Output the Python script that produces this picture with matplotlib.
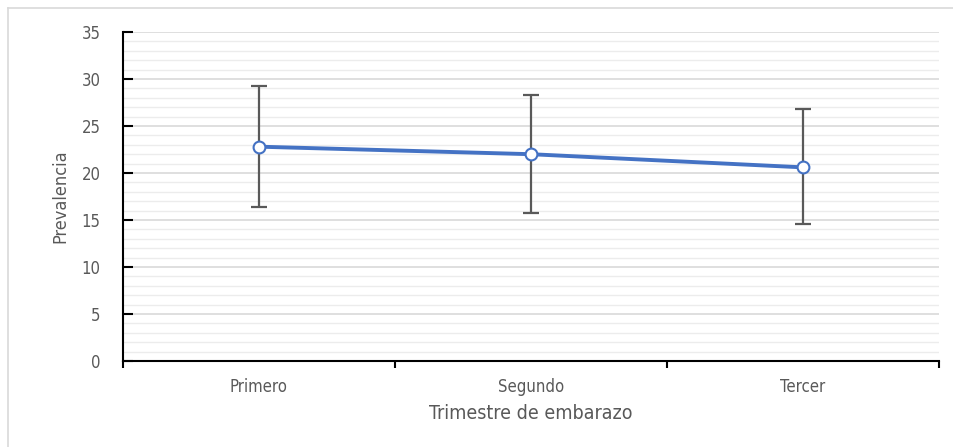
import matplotlib.pyplot as plt
from matplotlib.ticker import MultipleLocator, FixedLocator
from matplotlib.lines import Line2D
import numpy as np

trimestres = ["Primero", "Segundo", "Tercer"]
prevalencia = [22.8, 22.0, 20.6]
ic_inferior = [16.4, 15.7, 14.6]
ic_superior = [29.3, 28.3, 26.8]

plt.rcParams['font.family'] = ['DejaVu Sans']
plt.rcParams['font.stretch'] = 'condensed'
gray_text = '#595959'

fig = plt.figure(figsize=(9.54, 4.47), dpi=100)
ax = fig.add_axes([123 / 954, 86 / 447, 816 / 954, 329 / 447])

x = np.arange(1, len(trimestres) + 1)
vals = np.array(prevalencia)
yerr = [vals - np.array(ic_inferior), np.array(ic_superior) - vals]

ax.errorbar(x, vals, yerr=yerr, fmt='none', ecolor='#595959',
            elinewidth=1.6, capsize=6, capthick=1.6, zorder=3)
ax.plot(x, vals, color='#4472C4', lw=2.8, marker='o', ms=8.5,
        mfc='white', mec='#4472C4', mew=1.5, zorder=4)

ax.set_xlim(0.5, len(trimestres) + 0.5)
ax.set_ylim(0, 35)

ax.yaxis.set_major_locator(MultipleLocator(5))
ax.yaxis.set_minor_locator(MultipleLocator(1))
ax.grid(which='major', axis='y', color='#d9d9d9', lw=1.2, zorder=0)
ax.grid(which='minor', axis='y', color='#ececec', lw=1.0, zorder=0)
ax.set_axisbelow(True)

ax.xaxis.set_major_locator(FixedLocator(np.arange(0.5, len(trimestres) + 1, 1)))
ax.xaxis.set_minor_locator(FixedLocator(x))
ax.set_xticklabels([], minor=False)
ax.set_xticklabels(trimestres, minor=True)
ax.tick_params(axis='x', which='major', direction='out', length=5, width=1.5, color='black')
ax.tick_params(axis='x', which='minor', length=0, pad=12, labelsize=12, labelcolor=gray_text)
ax.tick_params(axis='y', which='major', direction='in', length=7, width=1.5,
               color='black', labelsize=12, labelcolor=gray_text, pad=16)
ax.tick_params(axis='y', which='minor', length=0)

for s in ['top', 'right']:
    ax.spines[s].set_visible(False)
for s in ['left', 'bottom']:
    ax.spines[s].set_linewidth(1.5)
    ax.spines[s].set_color('black')

ax.set_ylabel('Prevalencia', fontsize=13, color=gray_text)
ax.yaxis.set_label_coords(-54 / 816, 0.5)
ax.set_xlabel('Trimestre de embarazo', fontsize=14, color=gray_text, labelpad=6)

# light frame of the chart area
fig.add_artist(Line2D([8 / 954, 8 / 954], [0, 1 - 8 / 447], color='#d9d9d9', lw=1.2))
fig.add_artist(Line2D([8 / 954, 1], [1 - 8 / 447, 1 - 8 / 447], color='#d9d9d9', lw=1.2))

fig.savefig('out.png', dpi=100)
